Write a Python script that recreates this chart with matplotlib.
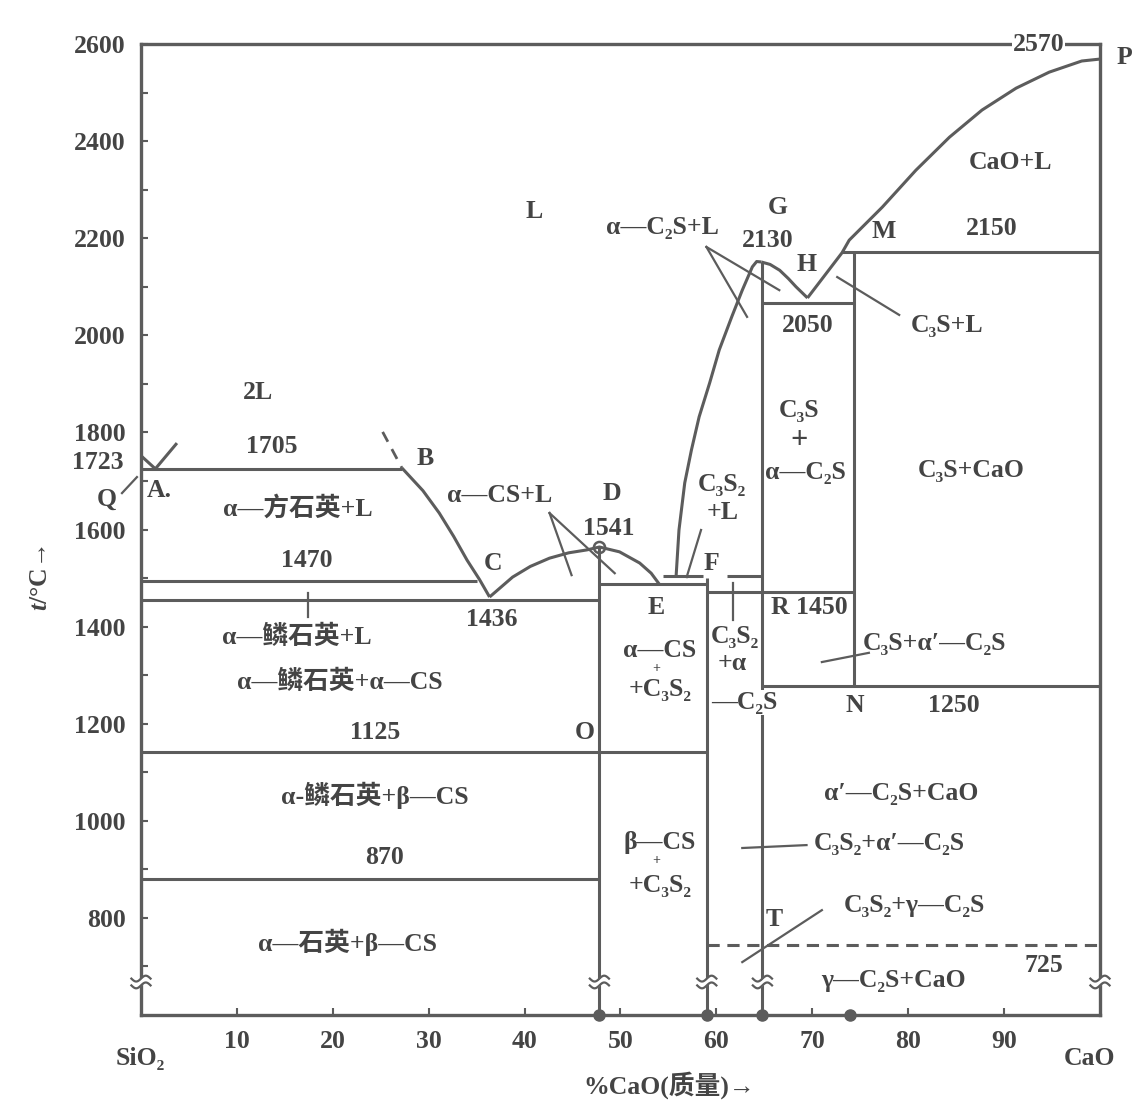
import matplotlib.pyplot as plt
import numpy as np

plt.rcParams['font.family'] = ['Liberation Serif', 'DejaVu Serif', 'Noto Sans CJK SC']
plt.rcParams['font.weight'] = 'bold'
plt.rcParams['mathtext.fontset'] = 'custom'
plt.rcParams['mathtext.it'] = 'Liberation Serif:italic:bold'

LINE = '#5c5c5c'
TEXT = '#444444'
FS = 18.5

# phase boundaries, (wt% CaO, temperature in C) as drawn
qa_x = [0, 1.5]
qa_t = [1752, 1725]
gap_a_x = [1.5, 3.75]
gap_a_t = [1725, 1778]
gap_b_x = [25.2, 27.2]
gap_b_t = [1801, 1727]
bc_x = [27.2, 29.4, 31.1, 32.6, 34.0, 35.3, 36.35]
bc_t = [1727, 1680, 1634, 1586, 1537, 1497, 1461]
cde_x = [36.35, 38.75, 40.6, 42.6, 44.6, 46.5, 47.8, 49.9, 52.0, 53.2, 54.1]
cde_t = [1461, 1502, 1524, 1541, 1552, 1558, 1564, 1554, 1531, 1510, 1486]
g_left_x = [55.8, 56.1, 56.7, 57.4, 58.2, 59.3, 60.3, 61.6, 62.7, 63.75, 64.2, 64.7]
g_left_t = [1504, 1599, 1696, 1764, 1832, 1902, 1970, 2038, 2093, 2141, 2152, 2151]
gh_x = [64.7, 65.6, 66.6, 67.5, 68.3, 69.5]
gh_t = [2151, 2146, 2134, 2117, 2100, 2077]
hp_x = [69.5, 70.7, 73.1, 73.85, 77.3, 80.8, 84.3, 87.7, 91.25, 94.7, 98.1, 100]
hp_t = [2077, 2108, 2170, 2196, 2264, 2340, 2408, 2464, 2509, 2542, 2565, 2569]

# isotherms: start, end, temperature
iso_x0 = [0, 0, 0, 47.8, 54.4, 61.1, 59.0, 64.8, 73.1, 64.8, 0, 0]
iso_x1 = [27.2, 35.0, 47.8, 59.0, 58.6, 64.8, 74.4, 74.4, 100, 100, 59.0, 47.8]
iso_t = [1725, 1494, 1455, 1487, 1504, 1504, 1471, 2067, 2172, 1278, 1142, 880]

# dashed isotherm 725
dash_x = [59.0, 100]
dash_t = [744, 744]

# compound verticals: composition, top temperature
comp_x = [47.8, 59.0, 64.8, 74.4]
comp_top = [1564, 1500, 2151, 2172]
comp_bot = [600, 600, 600, 1278]
dots_x = [47.8, 59.0, 64.8, 73.9]

x_ticks = [10, 20, 30, 40, 50, 60, 70, 80, 90]
y_ticks = [800, 1000, 1200, 1400, 1600, 1800, 2000, 2200, 2400, 2600]
y_minor = [700, 900, 1100, 1300, 1500, 1700, 1900, 2100, 2300, 2500]

fig = plt.figure(figsize=(11.36, 11.17), dpi=100)
ax = fig.add_axes([0.1241, 0.0913, 0.8442, 0.8693])
ax.set_xlim(0, 100)
ax.set_ylim(600, 2600)

kw = dict(color=LINE, lw=2.2, solid_capstyle='butt', zorder=2)
for xs, ts in [(qa_x, qa_t), (gap_a_x, gap_a_t), (bc_x, bc_t), (cde_x, cde_t),
               (g_left_x, g_left_t), (gh_x, gh_t), (hp_x, hp_t)]:
    ax.plot(xs, ts, **kw)
ax.plot(gap_b_x, gap_b_t, color=LINE, lw=2.0, ls=(0, (4, 3)))
for x0, x1, t in zip(iso_x0, iso_x1, iso_t):
    ax.plot([x0, x1], [t, t], **kw)
ax.plot(dash_x, dash_t, color=LINE, lw=2.2, ls=(0, (4, 2.5)))
for x, t0, t1 in zip(comp_x, comp_top, comp_bot):
    ax.plot([x, x], [t0, t1], **kw)
ax.plot(dots_x, [600] * len(dots_x), 'o', color=LINE, ms=8, clip_on=False, zorder=6)
ax.plot([47.8], [1564], 'o', mfc='none', mec=LINE, ms=8, mew=1.8)

# leader lines
leaders = [
    ((-1.98, -0.42), (1675, 1708)),
    ((42.6, 44.9), (1634, 1506)),
    ((42.6, 49.4), (1634, 1510)),
    ((58.96, 66.56), (2182, 2093)),
    ((58.96, 63.2), (2182, 2038)),
    ((72.6, 79.06), (2120, 2042)),
    ((56.9, 58.4), (1502, 1599)),
    ((61.7, 61.7), (1490, 1414)),
    ((71.0, 75.9), (1327, 1346)),
    ((62.7, 69.4), (944, 950)),
    ((62.7, 71.0), (709, 816)),
    ((17.4, 17.4), (1469, 1420)),
]
for xs, ts in leaders:
    ax.plot(xs, ts, color=LINE, lw=1.6, clip_on=False, zorder=2)


def brk(x, t=668):
    xs = np.linspace(x - 1.0, x + 1.0, 40)
    w = 6 * np.sin(np.pi * (xs - x) / 1.0)
    ax.fill_between(xs, t - 7 + w, t + 7 + w, color='white', zorder=3, clip_on=False, lw=0)
    ax.plot(xs, t + 7 + w, color=LINE, lw=1.6, zorder=4, clip_on=False)
    ax.plot(xs, t - 7 + w, color=LINE, lw=1.6, zorder=4, clip_on=False)


for x in [0, 47.8, 59.0, 64.8, 100]:
    brk(x)


def lab(x, t, s, size=FS, bg=False, ha='center'):
    box = dict(fc='white', ec='none', pad=0.6) if bg else None
    ax.text(x, t, s, ha=ha, va='center', color=TEXT, fontsize=size,
            fontweight='bold', bbox=box, zorder=5, clip_on=False)


lab(12.2, 1883, '2L')
lab(13.6, 1770, '1705')
lab(29.6, 1747, 'B')
lab(0.6, 1681, 'A.', ha='left')
lab(-3.6, 1663, 'Q')
lab(16.35, 1644, 'α—方石英+L')
lab(17.3, 1537, '1470')
lab(36.7, 1529, 'C')
lab(36.6, 1414, '1436')
lab(16.25, 1379, 'α—鳞石英+L')
lab(20.7, 1286, 'α—鳞石英+α—CS')
lab(24.4, 1181, '1125')
lab(46.25, 1181, 'O')
lab(24.4, 1053, 'α-鳞石英+β—CS')
lab(25.4, 925, '870')
lab(21.5, 750, 'α—石英+β—CS')
lab(41.0, 2254, 'L')
lab(54.4, 2223, 'α—C₂S+L')
lab(66.4, 2264, 'G')
lab(65.3, 2196, '2130')
lab(77.4, 2213, 'M')
lab(88.75, 2221, '2150')
lab(69.4, 2145, 'H')
lab(69.5, 2021, '2050')
lab(84.1, 2021, 'C₃S+L')
lab(90.7, 2355, 'CaO+L')
lab(93.6, 2598, '2570', bg=True)
lab(102.5, 2573, 'P')
lab(68.65, 1846, 'C₃S')
lab(68.65, 1784, '+', size=22)
lab(69.3, 1718, 'α—C₂S')
lab(86.6, 1722, 'C₃S+CaO')
lab(37.4, 1671, 'α—CS+L')
lab(49.1, 1675, 'D')
lab(48.75, 1603, '1541')
lab(60.6, 1692, 'C₃S₂')
lab(60.6, 1636, '+L')
lab(53.75, 1440, 'E')
lab(59.5, 1531, 'F')
lab(69.7, 1440, 'R 1450')
lab(54.1, 1350, 'α—CS')
lab(53.7, 1313, '+', size=10)
lab(54.1, 1271, '+C₃S₂')
lab(61.9, 1379, 'C₃S₂', bg=True)
lab(61.7, 1325, '+α')
lab(62.9, 1244, '—C₂S', bg=True)
lab(82.7, 1366, 'C₃S+α′—C₂S')
lab(74.4, 1238, 'N')
lab(84.8, 1238, '1250')
lab(54.1, 956, 'β—CS')
lab(53.7, 918, '+', size=10)
lab(54.1, 866, '+C₃S₂')
lab(79.3, 1057, 'α′—C₂S+CaO')
lab(78.0, 954, 'C₃S₂+α′—C₂S')
lab(80.6, 826, 'C₃S₂+γ—C₂S')
lab(66.0, 796, 'T')
lab(94.2, 703, '725')
lab(78.5, 672, 'γ—C₂S+CaO')

# axis frame and ticks
for s in ax.spines.values():
    s.set_color(LINE)
    s.set_linewidth(2.4)
ax.set_xticks(x_ticks)
ax.set_yticks(y_ticks)
ax.set_yticks(y_minor, minor=True)
ax.tick_params(which='both', direction='in', length=5, width=1.5, color=LINE,
               labelsize=FS, labelcolor=TEXT, pad=11)
for t in ax.get_xticklabels() + ax.get_yticklabels():
    t.set_fontweight('bold')
lab(-1.8, 1737, '1723', ha='right')
lab(-0.1, 511, 'SiO₂')
lab(98.9, 511, 'CaO')
lab(55.1, 456, '%CaO(质量)→')
ax.text(-10.5, 1500, r'$t$/°C→', rotation=90, ha='center', va='center',
        color=TEXT, fontsize=FS, fontweight='bold', clip_on=False)

fig.savefig('out.png', dpi=100, facecolor='white')
